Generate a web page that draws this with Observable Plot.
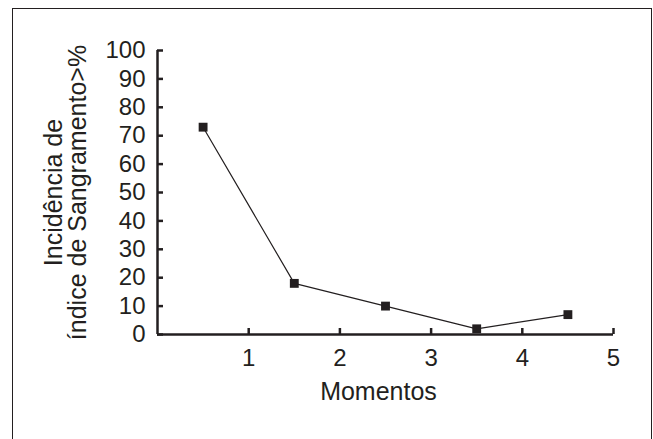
<!DOCTYPE html>
<html><head><meta charset="utf-8">
<script src="https://cdn.jsdelivr.net/npm/d3@7"></script>
<script src="https://cdn.jsdelivr.net/npm/@observablehq/plot@0.6"></script>
<style>
body{margin:0;background:#fff}
#wrap{position:relative;width:653px;height:439px;overflow:hidden}
#frame{position:absolute;left:12px;top:8px;width:638px;height:470px;border:1.5px solid #231f20;pointer-events:none}
</style></head>
<body><div id="wrap"><div id="frame"></div></div>
<script>
const momentos = [0.5, 1.5, 2.5, 3.5, 4.5];
const incidencia = [73, 18, 10, 2, 7];
const xTicks = [1, 2, 3, 4, 5];
const yTicks = [0, 10, 20, 30, 40, 50, 60, 70, 80, 90, 100];
const yLabel = "Incidência de\níndice de Sangramento>%";
const xLabel = "Momentos";

const data = momentos.map((m, i) => ({m, v: incidencia[i]}));
const ink = "#231f20";

const chart = Plot.plot({
  width: 653, height: 439,
  marginLeft: 157, marginRight: 40, marginTop: 50, marginBottom: 105,
  style: {fontFamily: "Liberation Sans, Arial, sans-serif", background: "transparent", color: ink},
  x: {domain: [0, 5]},
  y: {domain: [0, 100]},
  marks: [
    Plot.axisY({ticks: yTicks, tickSize: -6, tickPadding: 18, strokeWidth: 2.5, fontSize: 24, label: null, fill: ink}),
    Plot.axisX({ticks: xTicks, tickFormat: "d", tickSize: -6, tickPadding: 20, strokeWidth: 2.5, fontSize: 24, label: null, fill: ink}),
    Plot.ruleX([0], {stroke: ink, strokeWidth: 2.5}),
    Plot.ruleY([0], {stroke: ink, strokeWidth: 2.5}),
    Plot.line(data, {x: "m", y: "v", stroke: ink, strokeWidth: 1.2}),
    Plot.dot(data, {x: "m", y: "v", symbol: "square", r: 5, fill: ink, stroke: "none"}),
    Plot.text([yLabel], {frameAnchor: "left", textAnchor: "middle", rotate: -90, dx: -91, text: d => d, fontSize: 25, lineHeight: 0.95, fill: ink}),
    Plot.text([xLabel], {frameAnchor: "bottom", dy: 65, dx: -7, text: d => d, fontSize: 25, fill: ink})
  ]
});
document.getElementById("wrap").prepend(chart);
</script>
</body></html>
